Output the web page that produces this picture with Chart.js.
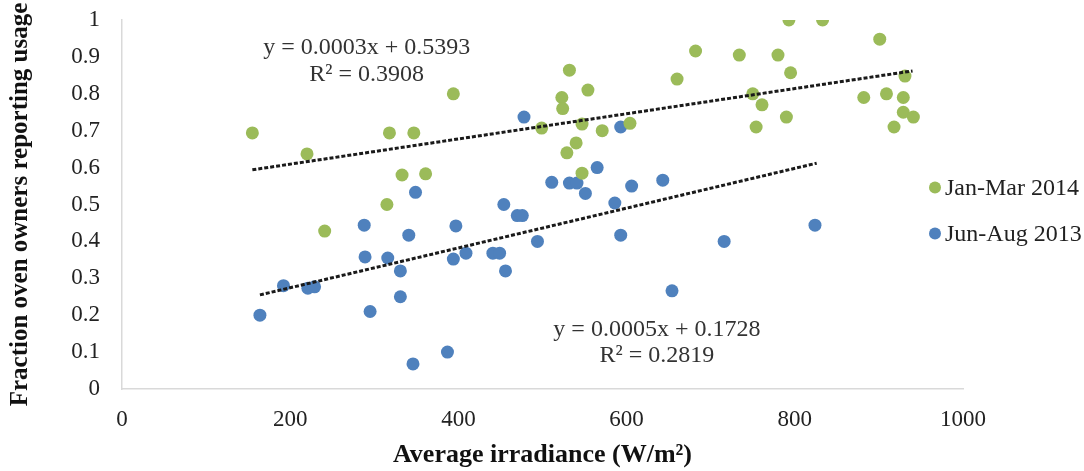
<!DOCTYPE html>
<html>
<head>
<meta charset="utf-8">
<script src="https://cdn.jsdelivr.net/npm/chart.js@4.4.0/dist/chart.umd.min.js"></script>
<style>
  html, body { margin: 0; padding: 0; background: #fff; }
  #wrap { width: 1084px; height: 471px; }
</style>
</head>
<body>
<div id="wrap"><canvas id="c" width="1084" height="471"></canvas></div>
<script>
// Jan-Mar 2014 : [irradiance, fraction]
const janMarX = [155,220,241,318,347,394,333,361,315,499,532,523,524,554,547,571,540,529,547,604,660,682,734,793,833,780,795,750,761,754,790,901,882,909,929,931,929,941,918];
const janMarY = [0.694,0.637,0.428,0.694,0.694,0.80,0.58,0.583,0.50,0.707,0.864,0.79,0.76,0.81,0.718,0.70,0.667,0.64,0.585,0.72,0.84,0.916,0.905,1.0,1.0,0.905,0.857,0.80,0.77,0.71,0.737,0.948,0.79,0.80,0.79,0.848,0.75,0.737,0.71];
// Jun-Aug 2013
const junAugX = [164,192,221,229,288,289,295,316,331,331,349,341,346,387,397,394,409,441,449,456,494,593,654,454,470,476,478,511,532,541,551,565,593,586,606,643,716,824];
const junAugY = [0.20,0.28,0.273,0.277,0.444,0.358,0.21,0.355,0.32,0.25,0.533,0.417,0.068,0.10,0.442,0.352,0.368,0.368,0.368,0.32,0.40,0.417,0.266,0.50,0.47,0.47,0.737,0.56,0.558,0.558,0.53,0.60,0.71,0.504,0.55,0.566,0.40,0.444];
// linear trend lines (end points)
const trendJanMarX = [155, 940];
const trendJanMarY = [0.594, 0.862];
const trendJunAugX = [164, 826];
const trendJunAugY = [0.255, 0.612];
const xTicks = [0,200,400,600,800,1000];
const yTicks = [0,0.1,0.2,0.3,0.4,0.5,0.6,0.7,0.8,0.9,1];
const seriesNames = ['Jan-Mar 2014','Jun-Aug 2013'];
const seriesColors = ['#9BBB59','#4F81BD'];
const eqJanMar = ['y = 0.0003x + 0.5393','R² = 0.3908'];
const eqJunAug = ['y = 0.0005x + 0.1728','R² = 0.2819'];
const eqJanMarPos = {x: 291, y1: 0.924, y2: 0.851};
const eqJunAugPos = {x: 636, y1: 0.16, y2: 0.089};

const pts = (xs, ys) => xs.map((x, i) => ({x: x, y: ys[i]}));
const SERIF = '"Liberation Serif", "Times New Roman", serif';

const overlay = {
  id: 'overlay',
  afterDatasetsDraw(chart) {
    const ctx = chart.ctx, xs = chart.scales.x, ys = chart.scales.y;
    ctx.save();
    ctx.fillStyle = '#333';
    ctx.font = '24px ' + SERIF;
    ctx.textAlign = 'center';
    ctx.textBaseline = 'middle';
    [[eqJanMar, eqJanMarPos], [eqJunAug, eqJunAugPos]].forEach(([t, p]) => {
      ctx.fillText(t[0], xs.getPixelForValue(p.x), ys.getPixelForValue(p.y1));
      ctx.fillText(t[1], xs.getPixelForValue(p.x), ys.getPixelForValue(p.y2));
    });
    // legend
    ctx.textAlign = 'left';
    const lx = chart.chartArea.right - 28;
    const cy = (chart.chartArea.top + chart.chartArea.bottom) / 2;
    seriesNames.forEach((n, i) => {
      const y = cy - 17 + i * 46;
      ctx.fillStyle = seriesColors[i];
      ctx.beginPath(); ctx.arc(lx, y, 6, 0, Math.PI * 2); ctx.fill();
      ctx.fillStyle = '#222';
      ctx.fillText(n, lx + 10, y + 1);
    });
    ctx.restore();
  }
};

new Chart(document.getElementById('c'), {
  type: 'scatter',
  data: {
    datasets: [
      {label: 'trend1', data: pts(trendJanMarX, trendJanMarY), showLine: true, pointRadius: 0, borderColor: '#1a1a1a', borderWidth: 3, borderDash: [4, 2], order: 0},
      {label: 'trend2', data: pts(trendJunAugX, trendJunAugY), showLine: true, pointRadius: 0, borderColor: '#1a1a1a', borderWidth: 3, borderDash: [4, 2], order: 0},
      {label: seriesNames[0], data: pts(janMarX, janMarY), backgroundColor: seriesColors[0], borderWidth: 0, pointRadius: 6.5, order: 1},
      {label: seriesNames[1], data: pts(junAugX, junAugY), backgroundColor: seriesColors[1], borderWidth: 0, pointRadius: 6.5, order: 1}
    ]
  },
  options: {
    responsive: false,
    animation: false,
    layout: {padding: {left: 0, right: 121, top: 20, bottom: 0}},
    plugins: {legend: {display: false}, tooltip: {enabled: false}},
    scales: {
      x: {
        type: 'linear', min: 0, max: 1000,
        afterBuildTicks: s => { s.ticks = xTicks.map(v => ({value: v})); },
        afterFit: s => { s.height = 82; s.paddingTop = 0; s.paddingBottom = 0; },
        grid: {display: false, drawTicks: false},
        border: {display: true, color: '#d9d9d9', width: 1.5},
        ticks: {padding: 17, color: '#222', font: {family: SERIF, size: 23}, callback: v => String(v)},
        title: {display: true, text: 'Average irradiance (W/m²)', color: '#111', font: {family: SERIF, size: 26, weight: 'bold'}, padding: {top: 0, bottom: 0}}
      },
      y: {
        type: 'linear', min: 0, max: 1,
        afterBuildTicks: s => { s.ticks = yTicks.map(v => ({value: v})); },
        afterFit: s => { s.width = 122; s.paddingTop = 0; s.paddingBottom = 0; },
        grid: {display: false, drawTicks: false},
        border: {display: true, color: '#d9d9d9', width: 1.5},
        ticks: {padding: 22, color: '#222', font: {family: SERIF, size: 23}, callback: v => String(Math.round(v * 10) / 10)},
        title: {display: true, text: 'Fraction oven owners reporting usage', color: '#111', font: {family: SERIF, size: 25, weight: 'bold'}, padding: {top: 6, bottom: 0}}
      }
    }
  },
  plugins: [overlay]
});
</script>
</body>
</html>
